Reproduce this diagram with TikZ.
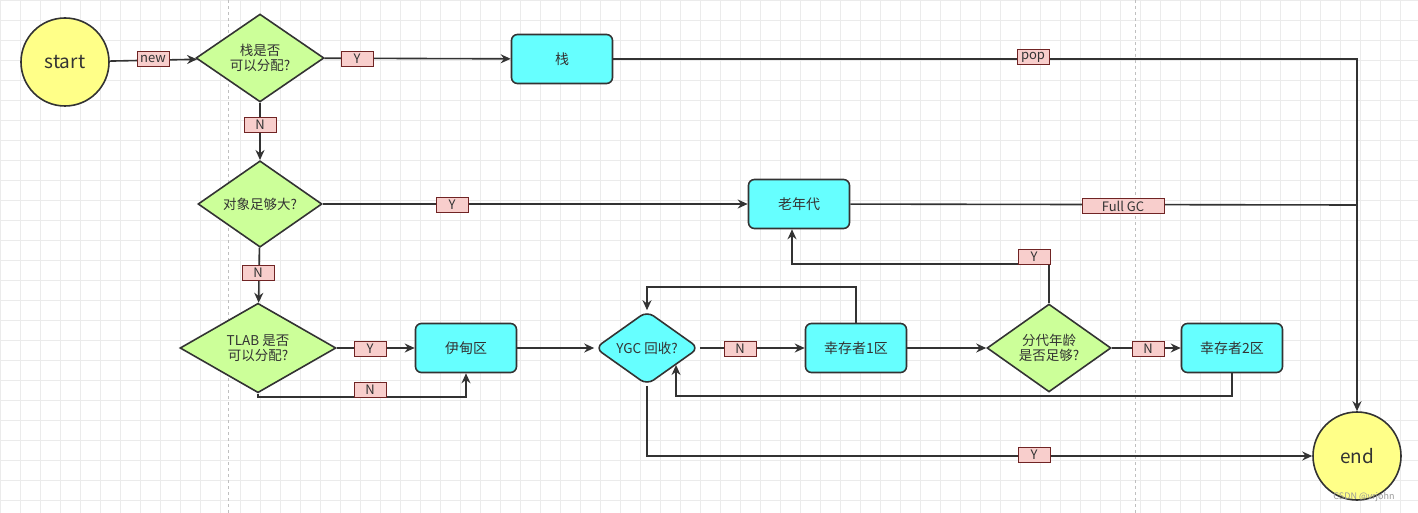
\documentclass[tikz,border=0pt]{standalone}
\usepackage{fontspec}
\setmainfont{Noto Sans CJK SC}
\usetikzlibrary{shapes,arrows,arrows.meta,positioning,calc}
\definecolor{term}{HTML}{FFFF88}
\definecolor{box}{HTML}{66FFFF}
\definecolor{cond}{HTML}{CCFF99}
\definecolor{tag}{HTML}{F8CECC}
\definecolor{ink}{HTML}{333333}
\begin{document}
\begin{tikzpicture}[
    x=1pt, y=-1pt,
    every node/.style={font=\fontsize{14}{16}\selectfont, text=ink},
    term/.style={circle, draw=ink, line width=1.6pt, fill=term, minimum size=88pt,
        font=\fontsize{19}{21}\selectfont},
    store/.style={rectangle, rounded corners=6pt, draw=ink, line width=1.6pt, fill=box,
        minimum width=101pt, minimum height=49pt},
    test/.style={diamond, draw=ink, line width=1.6pt, fill=cond, inner sep=0pt,
        align=center, font=\fontsize{13.5}{15}\selectfont},
    tag/.style={rectangle, draw=ink!70!red, fill=tag, inner sep=1pt,
        minimum width=32pt, minimum height=15pt, font=\fontsize{13}{14}\selectfont},
    flow/.style={draw=ink, line width=1.6pt, -{Stealth[length=10pt,width=9pt]}},
    wire/.style={draw=ink, line width=1.6pt}
]
    \useasboundingbox (0,0) rectangle (1418,513);
    \foreach \gx in {0,20,...,1418} \draw[black!8] (\gx,0) -- (\gx,513);
    \foreach \gy in {0,20,...,513} \draw[black!8] (0,\gy) -- (1418,\gy);
    \draw[black!25, dashed] (228,0) -- (228,513);
    \draw[black!25, dashed] (1135,0) -- (1135,513);

    \node[term] (start) at (65,62) {start};
    \node[term] (end) at (1357,456) {end};
    \node[test, minimum width=128pt, minimum height=82pt] (canstack) at (260,58) {栈是否\\可以分配?};
    \node[store] (stack) at (562,59) {栈};
    \node[test, minimum width=124pt, minimum height=80pt] (big) at (260,204) {对象足够大?};
    \node[store] (old) at (799,204) {老年代};
    \node[test, minimum width=156pt, minimum height=68pt] (tlab) at (258,348) {TLAB 是否\\可以分配?};
    \node[store] (eden) at (466,348) {伊甸区};
    \node[test, fill=box, rounded corners=8pt, minimum width=104pt, minimum height=74pt] (ygc) at (647,348) {YGC 回收?};
    \node[store] (s1) at (856,348) {幸存者1区};
    \node[test, minimum width=124pt, minimum height=70pt] (age) at (1049,348) {分代年龄\\是否足够?};
    \node[store] (s2) at (1232,348) {幸存者2区};
    \coordinate (join) at (1357,205);

    \path[flow] (start) -- (canstack);
    \path[flow] (canstack) -- (stack);
    \path[flow] (stack) -| (end);
    \path[flow] (canstack) -- (big);
    \path[flow] (big) -- (old);
    \path[wire] (old) -- (join);
    \path[flow] (big) -- (tlab);
    \path[flow] (tlab) -- (eden);
    \path[flow] (tlab.south) |- (380,397) -| (eden.south);
    \path[flow] (eden) -- (ygc);
    \path[flow] (ygc) -- (s1);
    \path[flow] (s1) -- (age);
    \path[flow] (age) -- (s2);
    \path[flow] (age.north) |- (900,264) -| (old.south -| 792,0);
    \path[flow] (s1.north) |- (700,287) -| (ygc.north);
    \path[flow] (s2.south) |- (900,396) -| ($(ygc.east)!0.45!(ygc.south)$);
    \path[flow] (ygc.south) |- (end.west);

    \node[tag] at (153,59) {new};
    \node[tag] at (357,59) {Y};
    \node[tag] at (1033,57) {pop};
    \node[tag] at (260,125) {N};
    \node[tag] at (452,205) {Y};
    \node[tag, minimum width=82pt] at (1123,206) {Full GC};
    \node[tag] at (258,273) {N};
    \node[tag] at (370,349) {Y};
    \node[tag] at (370,390) {N};
    \node[tag] at (740,349) {N};
    \node[tag] at (1148,349) {N};
    \node[tag] at (1034,257) {Y};
    \node[tag] at (1034,455) {Y};
    \node[font=\fontsize{9}{10}\selectfont, text=black!40] at (1364,497) {CSDN @vrjohn};
\end{tikzpicture}
\end{document}
